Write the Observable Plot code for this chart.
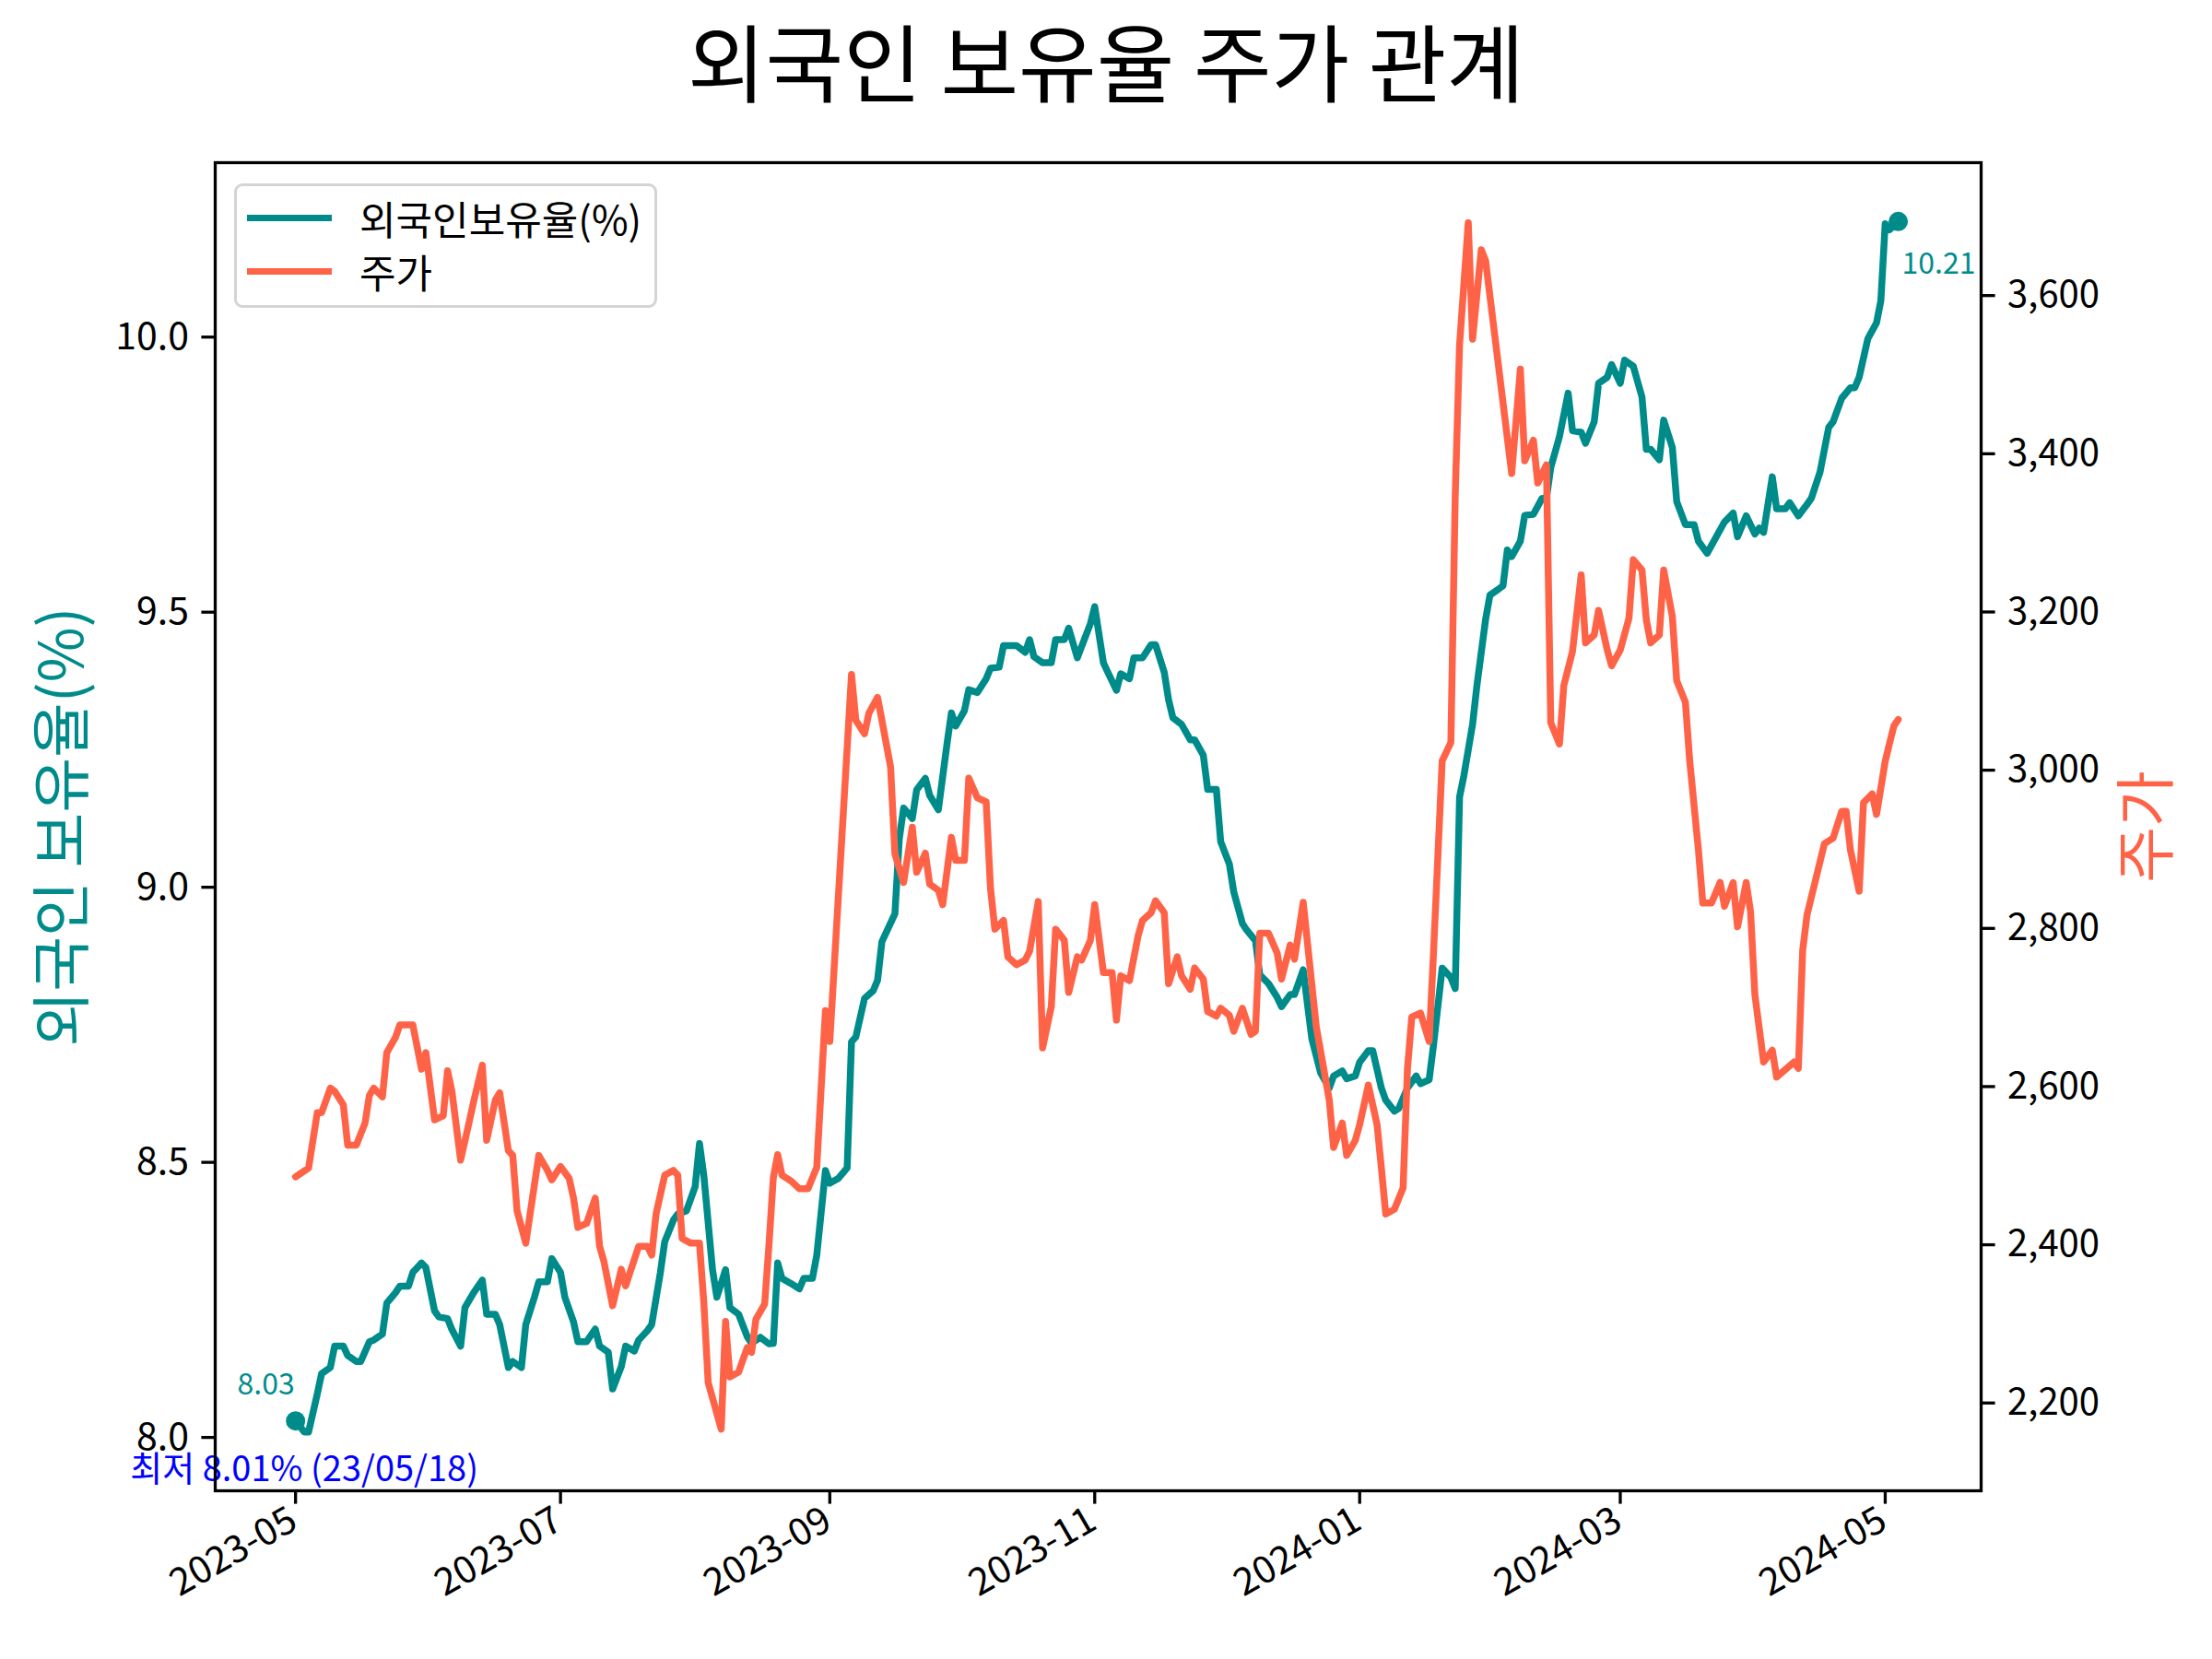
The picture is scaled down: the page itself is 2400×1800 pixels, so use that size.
<!DOCTYPE html>
<html><head><meta charset="utf-8">
<script src="https://cdn.jsdelivr.net/npm/d3@7"></script>
<script src="https://cdn.jsdelivr.net/npm/@observablehq/plot@0.6"></script>
<style>
html,body{margin:0;padding:0;background:#fff;overflow:hidden}
#wrap{width:2400px;height:1800px;font-family:"Noto Sans CJK KR","Noto Sans",sans-serif;background:#fff}
#title{width:2400px;height:140px;line-height:128px;text-align:center;font-size:92px;color:#000}
#chart{position:relative;width:2400px;height:1660px}
#chart svg{position:absolute;left:0;top:0}
#legend{position:absolute;left:254px;top:59px;width:453px;height:129px;border:3px solid #d4d4d4;border-radius:9px;background:rgba(255,255,255,0.85);z-index:5}
.li{position:absolute;left:0;height:58px;display:flex;align-items:center}
.sw{display:inline-block;width:92px;height:7px;margin-left:11px;margin-right:30px}
.lt{font-size:43px;color:#000;line-height:58px}
</style></head>
<body>
<div id="wrap">
  <div id="title">외국인 보유율 주가 관계</div>
  <div id="chart">
    <div id="legend"></div>
  </div>
</div>
<script>
const seriesNames = ["외국인보유율(%)", "주가"];
const axisLabels = ["외국인 보유율(%)", "주가"];
const minLabel = "최저 8.01% (23/05/18)";
const teal = "#008b8b", orange = "#ff6347";

const ratioDates = [
"2023-05-01","2023-05-03","2023-05-04","2023-05-06","2023-05-07","2023-05-09","2023-05-10","2023-05-12","2023-05-13","2023-05-15","2023-05-16","2023-05-18","2023-05-19","2023-05-21","2023-05-22","2023-05-24","2023-05-25","2023-05-27","2023-05-28","2023-05-30","2023-05-31",
"2023-06-02","2023-06-03","2023-06-05","2023-06-06","2023-06-08","2023-06-09","2023-06-11","2023-06-13","2023-06-14","2023-06-16","2023-06-17","2023-06-19","2023-06-20","2023-06-22","2023-06-23","2023-06-25","2023-06-26","2023-06-28","2023-06-29",
"2023-07-01","2023-07-02","2023-07-04","2023-07-05","2023-07-07","2023-07-09","2023-07-10","2023-07-12","2023-07-13","2023-07-15","2023-07-16","2023-07-18","2023-07-19","2023-07-21","2023-07-22","2023-07-24","2023-07-25","2023-07-27","2023-07-28","2023-07-30",
"2023-08-01","2023-08-02","2023-08-03","2023-08-05","2023-08-06","2023-08-08","2023-08-09","2023-08-11","2023-08-13","2023-08-14","2023-08-16","2023-08-18","2023-08-19","2023-08-20","2023-08-21","2023-08-23","2023-08-25","2023-08-26","2023-08-28","2023-08-29","2023-08-31",
"2023-09-01","2023-09-03","2023-09-05","2023-09-06","2023-09-07","2023-09-09","2023-09-11","2023-09-12","2023-09-13","2023-09-16","2023-09-17","2023-09-18","2023-09-20","2023-09-21","2023-09-23","2023-09-24","2023-09-26","2023-09-28","2023-09-29","2023-09-30",
"2023-10-02","2023-10-03","2023-10-05","2023-10-07","2023-10-08","2023-10-10","2023-10-11","2023-10-14","2023-10-16","2023-10-17","2023-10-18","2023-10-20","2023-10-22","2023-10-23","2023-10-25","2023-10-26","2023-10-28","2023-10-29","2023-10-31",
"2023-11-01","2023-11-03","2023-11-04","2023-11-06","2023-11-07","2023-11-09","2023-11-10","2023-11-12","2023-11-14","2023-11-15","2023-11-17","2023-11-18","2023-11-19","2023-11-21","2023-11-23","2023-11-24","2023-11-26","2023-11-27","2023-11-29","2023-11-30",
"2023-12-02","2023-12-03","2023-12-05","2023-12-06","2023-12-08","2023-12-09","2023-12-11","2023-12-13","2023-12-14","2023-12-16","2023-12-17","2023-12-19","2023-12-20","2023-12-21","2023-12-23","2023-12-25","2023-12-26","2023-12-28","2023-12-29","2023-12-31",
"2024-01-01","2024-01-03","2024-01-04","2024-01-06","2024-01-07","2024-01-09","2024-01-10","2024-01-12","2024-01-14","2024-01-15","2024-01-17","2024-01-18","2024-01-20","2024-01-22","2024-01-23","2024-01-24","2024-01-25","2024-01-27","2024-01-28","2024-01-30","2024-01-31",
"2024-02-02","2024-02-03","2024-02-04","2024-02-05","2024-02-07","2024-02-08","2024-02-10","2024-02-12","2024-02-13","2024-02-14","2024-02-16","2024-02-18","2024-02-19","2024-02-21","2024-02-22","2024-02-24","2024-02-25","2024-02-27","2024-02-28",
"2024-03-01","2024-03-02","2024-03-04","2024-03-06","2024-03-07","2024-03-08","2024-03-10","2024-03-11","2024-03-13","2024-03-14","2024-03-16","2024-03-18","2024-03-19","2024-03-21","2024-03-25","2024-03-27","2024-03-28","2024-03-30",
"2024-04-01","2024-04-02","2024-04-03","2024-04-05","2024-04-06","2024-04-08","2024-04-09","2024-04-11","2024-04-13","2024-04-14","2024-04-16","2024-04-18","2024-04-19","2024-04-21","2024-04-23","2024-04-24","2024-04-25","2024-04-27","2024-04-29","2024-04-30",
"2024-05-01","2024-05-02","2024-05-04"];

const ratioValues = [
8.03,8.01,8.01,8.079,8.116,8.127,8.166,8.166,8.149,8.138,8.138,8.174,8.177,8.188,8.244,8.263,8.275,8.275,8.300,8.317,8.309,
8.230,8.219,8.216,8.196,8.166,8.236,8.263,8.286,8.224,8.224,8.205,8.127,8.138,8.127,8.205,8.255,8.283,8.283,8.325,
8.300,8.255,8.210,8.174,8.174,8.197,8.166,8.155,8.088,8.129,8.166,8.157,8.177,8.194,8.205,8.300,8.356,8.395,8.406,8.412,
8.456,8.534,8.476,8.305,8.255,8.305,8.236,8.224,8.183,8.171,8.182,8.170,8.171,8.317,8.289,8.280,8.270,8.289,8.289,8.331,8.485,
8.462,8.471,8.490,8.719,8.728,8.798,8.812,8.831,8.901,8.952,9.088,9.144,9.125,9.177,9.198,9.167,9.141,9.261,9.317,9.293,
9.321,9.359,9.354,9.379,9.398,9.400,9.439,9.439,9.427,9.450,9.419,9.408,9.408,9.450,9.450,9.471,9.417,9.438,9.479,
9.510,9.408,9.391,9.358,9.388,9.379,9.417,9.417,9.441,9.441,9.391,9.341,9.308,9.296,9.268,9.268,9.240,9.178,9.178,9.083,
9.042,8.992,8.934,8.922,8.903,8.841,8.825,8.800,8.783,8.805,8.805,8.850,8.786,8.724,8.663,8.635,8.657,8.666,8.652,8.657,
8.682,8.703,8.703,8.635,8.613,8.593,8.598,8.635,8.657,8.643,8.650,8.713,8.853,8.836,8.816,9.164,9.203,9.296,9.367,9.487,9.531,
9.542,9.548,9.613,9.601,9.629,9.676,9.678,9.707,9.707,9.763,9.819,9.898,9.830,9.827,9.807,9.846,9.916,9.927,9.950,
9.916,9.958,9.947,9.891,9.796,9.796,9.777,9.849,9.799,9.701,9.659,9.659,9.629,9.607,9.664,9.680,9.637,9.675,
9.642,9.653,9.645,9.746,9.688,9.688,9.699,9.675,9.696,9.707,9.755,9.836,9.846,9.889,9.908,9.908,9.927,9.997,10.026,10.066,
10.206,10.195,10.21];

const priceDates = [
"2023-05-01","2023-05-04","2023-05-06","2023-05-07","2023-05-09","2023-05-10","2023-05-12","2023-05-13","2023-05-15","2023-05-17","2023-05-18","2023-05-19","2023-05-21","2023-05-22","2023-05-24","2023-05-25","2023-05-28","2023-05-30","2023-05-31",
"2023-06-02","2023-06-04","2023-06-05","2023-06-06","2023-06-08","2023-06-10","2023-06-11","2023-06-13","2023-06-14","2023-06-16","2023-06-17","2023-06-19","2023-06-20","2023-06-21","2023-06-23","2023-06-26","2023-06-28","2023-06-29",
"2023-07-01","2023-07-03","2023-07-04","2023-07-05","2023-07-07","2023-07-09","2023-07-10","2023-07-11","2023-07-13","2023-07-15","2023-07-16","2023-07-17","2023-07-19","2023-07-21","2023-07-22","2023-07-23","2023-07-25","2023-07-27","2023-07-28","2023-07-29","2023-07-31",
"2023-08-02","2023-08-03","2023-08-04","2023-08-07","2023-08-08","2023-08-09","2023-08-11","2023-08-13","2023-08-14","2023-08-15","2023-08-17","2023-08-18","2023-08-19","2023-08-20","2023-08-21","2023-08-23","2023-08-25","2023-08-27","2023-08-29","2023-08-31",
"2023-09-01","2023-09-06","2023-09-07","2023-09-09","2023-09-10","2023-09-12","2023-09-13","2023-09-15","2023-09-16","2023-09-18","2023-09-20","2023-09-21","2023-09-23","2023-09-24","2023-09-26","2023-09-27","2023-09-29","2023-09-30",
"2023-10-02","2023-10-03","2023-10-05","2023-10-07","2023-10-08","2023-10-09","2023-10-11","2023-10-12","2023-10-14","2023-10-16","2023-10-17","2023-10-19","2023-10-20","2023-10-22","2023-10-23","2023-10-25","2023-10-26","2023-10-28","2023-10-29","2023-10-31",
"2023-11-01","2023-11-03","2023-11-05","2023-11-06","2023-11-07","2023-11-09","2023-11-11","2023-11-12","2023-11-14","2023-11-15","2023-11-17","2023-11-18","2023-11-20","2023-11-21","2023-11-23","2023-11-24","2023-11-26","2023-11-27","2023-11-29","2023-11-30",
"2023-12-02","2023-12-03","2023-12-05","2023-12-07","2023-12-08","2023-12-09","2023-12-11","2023-12-13","2023-12-14","2023-12-16","2023-12-17","2023-12-19","2023-12-22","2023-12-25","2023-12-26","2023-12-28","2023-12-29","2023-12-31",
"2024-01-01","2024-01-03","2024-01-05","2024-01-06","2024-01-07","2024-01-09","2024-01-11","2024-01-12","2024-01-13","2024-01-15","2024-01-17","2024-01-18","2024-01-20","2024-01-22","2024-01-23","2024-01-24","2024-01-26","2024-01-27","2024-01-29","2024-01-30",
"2024-02-05","2024-02-07","2024-02-08","2024-02-10","2024-02-11","2024-02-13","2024-02-14","2024-02-16","2024-02-17","2024-02-19","2024-02-21","2024-02-22","2024-02-24","2024-02-25","2024-02-27","2024-02-28",
"2024-03-01","2024-03-03","2024-03-04","2024-03-06","2024-03-07","2024-03-08","2024-03-10","2024-03-11","2024-03-13","2024-03-14","2024-03-16","2024-03-17","2024-03-19","2024-03-20","2024-03-22","2024-03-24","2024-03-25","2024-03-27","2024-03-28","2024-03-30","2024-03-31",
"2024-04-01","2024-04-03","2024-04-05","2024-04-06","2024-04-10","2024-04-11","2024-04-12","2024-04-13","2024-04-15","2024-04-17","2024-04-19","2024-04-21","2024-04-22","2024-04-23","2024-04-25","2024-04-26","2024-04-28","2024-04-29",
"2024-05-01","2024-05-02","2024-05-03","2024-05-04"];

const priceValues = [
2486,2497,2567,2567,2598,2594,2577,2526,2526,2554,2589,2598,2587,2643,2662,2678,2678,2622,2643,
2558,2563,2620,2594,2507,2556,2581,2627,2532,2583,2592,2519,2513,2443,2402,2513,2494,2482,
2499,2484,2459,2422,2427,2459,2398,2379,2323,2369,2348,2365,2398,2398,2387,2439,2488,2494,2488,2408,2402,
2402,2327,2226,2167,2303,2233,2239,2270,2264,2306,2325,2400,2485,2514,2488,2481,2471,2471,2498,2696,
2657,3121,3063,3046,3072,3092,3063,3004,2894,2858,2928,2871,2895,2856,2848,2830,2915,2886,
2886,2990,2965,2960,2851,2799,2810,2764,2754,2760,2771,2834,2649,2701,2799,2785,2719,2764,2760,2785,
2830,2744,2744,2684,2740,2734,2791,2810,2820,2835,2820,2730,2764,2740,2723,2750,2736,2695,2689,2699,
2690,2670,2699,2666,2670,2794,2794,2769,2736,2779,2761,2833,2676,2583,2523,2554,2513,2532,
2552,2602,2552,2497,2439,2445,2472,2622,2688,2693,2657,2769,3012,3035,3347,3538,3692,3545,3658,3644,
3375,3507,3391,3417,3363,3386,3060,3033,3107,3150,3247,3161,3171,3202,3152,3132,
3152,3192,3266,3253,3190,3161,3171,3253,3194,3113,3086,3011,2899,2832,2832,2858,2828,2858,2802,2858,2821,
2716,2631,2646,2612,2631,2623,2772,2817,2862,2907,2914,2948,2948,2899,2847,2959,2970,2944,
3011,3034,3056,3064];

const xTicks = ["2023-05-01","2023-07-01","2023-09-01","2023-11-01","2024-01-01","2024-03-01","2024-05-01"];
const ratioTicks = [8.0, 8.5, 9.0, 9.5, 10.0];
const priceTicks = [2200, 2400, 2600, 2800, 3000, 3200, 3400, 3600];

const ratio = ratioDates.map((d, i) => ({date: new Date(d), value: ratioValues[i]}));
const price = priceDates.map((d, i) => ({date: new Date(d), value: priceValues[i]}));
const first = ratio[0], last = ratio[ratio.length - 1];
const minPt = ratio.reduce((a, b) => (b.value < a.value ? b : a));

const W = 2400, H = 1660;
const margins = {marginLeft: 233, marginRight: 251, marginTop: 36, marginBottom: 183};
const xDomain = [new Date("2023-04-12T12:00:00Z"), new Date("2024-05-23T02:00:00Z")];
const style = {fontFamily: '"Noto Sans CJK KR","Noto Sans",sans-serif', fontSize: "40px", background: "transparent", overflow: "visible"};
const xTickDates = xTicks.map(d => new Date(d));

const p1 = Plot.plot({
  width: W, height: H, ...margins, style,
  x: {type: "utc", domain: xDomain},
  y: {domain: [7.903, 10.317]},
  marks: [
    Plot.axisX({ticks: xTickDates, tickFormat: () => "", tickSize: 14.6, strokeWidth: 3.3, label: null}),
    Plot.axisX({ticks: xTickDates, tickFormat: d3.utcFormat("%Y-%m"), tickSize: 0, tickPadding: 14.6, tickRotate: -30, textAnchor: "end", lineAnchor: "top", dx: -10, fontSize: 41, label: null}),
    Plot.axisY({anchor: "left", ticks: ratioTicks, tickFormat: d3.format(".1f"), tickSize: 14.6, tickPadding: 14, fontSize: 41, strokeWidth: 3.3, label: null}),
    Plot.text([axisLabels[0]], {frameAnchor: "left", textAnchor: "middle", dx: -164, rotate: -90, fill: teal, fontSize: 65}),
    Plot.line(ratio, {x: "date", y: "value", stroke: teal, strokeWidth: 7.5}),
    Plot.dot([first, last], {x: "date", y: "value", r: 10.5, fill: teal}),
    Plot.text([first], {x: "date", y: "value", text: d => d3.format(".2f")(d.value), dx: -32, dy: -39, fill: teal, fontSize: 32}),
    Plot.text([last], {x: "date", y: "value", text: d => d3.format(".2f")(d.value), textAnchor: "start", dx: 4, dy: 46, fill: teal, fontSize: 32}),
    Plot.text([minPt], {x: "date", y: "value", text: () => minLabel, dy: 41, fill: "#0000ff", fontSize: 38})
  ]
});

const p2 = Plot.plot({
  width: W, height: H, ...margins, style,
  x: {type: "utc", domain: xDomain, axis: null},
  y: {domain: [2089, 3768]},
  marks: [
    Plot.axisY({anchor: "right", ticks: priceTicks, tickFormat: d3.format(","), tickSize: 14.6, tickPadding: 14, fontSize: 40, strokeWidth: 3.3, label: null}),
    Plot.text([axisLabels[1]], {frameAnchor: "right", textAnchor: "middle", dx: 181, rotate: -90, fill: orange, fontSize: 66}),
    Plot.line(price, {x: "date", y: "value", stroke: orange, strokeWidth: 7.5}),
    Plot.frame({stroke: "black", strokeWidth: 3.3})
  ]
});

const chart = document.getElementById("chart");
chart.appendChild(p1);
chart.appendChild(p2);

const legend = document.getElementById("legend");
[[seriesNames[0], teal], [seriesNames[1], orange]].forEach(([name, color], i) => {
  const row = document.createElement("div");
  row.className = "li";
  row.style.top = (5 + i * 58) + "px";
  const sw = document.createElement("span");
  sw.className = "sw"; sw.style.background = color;
  const t = document.createElement("span");
  t.className = "lt"; t.textContent = name;
  row.appendChild(sw); row.appendChild(t);
  legend.appendChild(row);
});
</script>
</body></html>
